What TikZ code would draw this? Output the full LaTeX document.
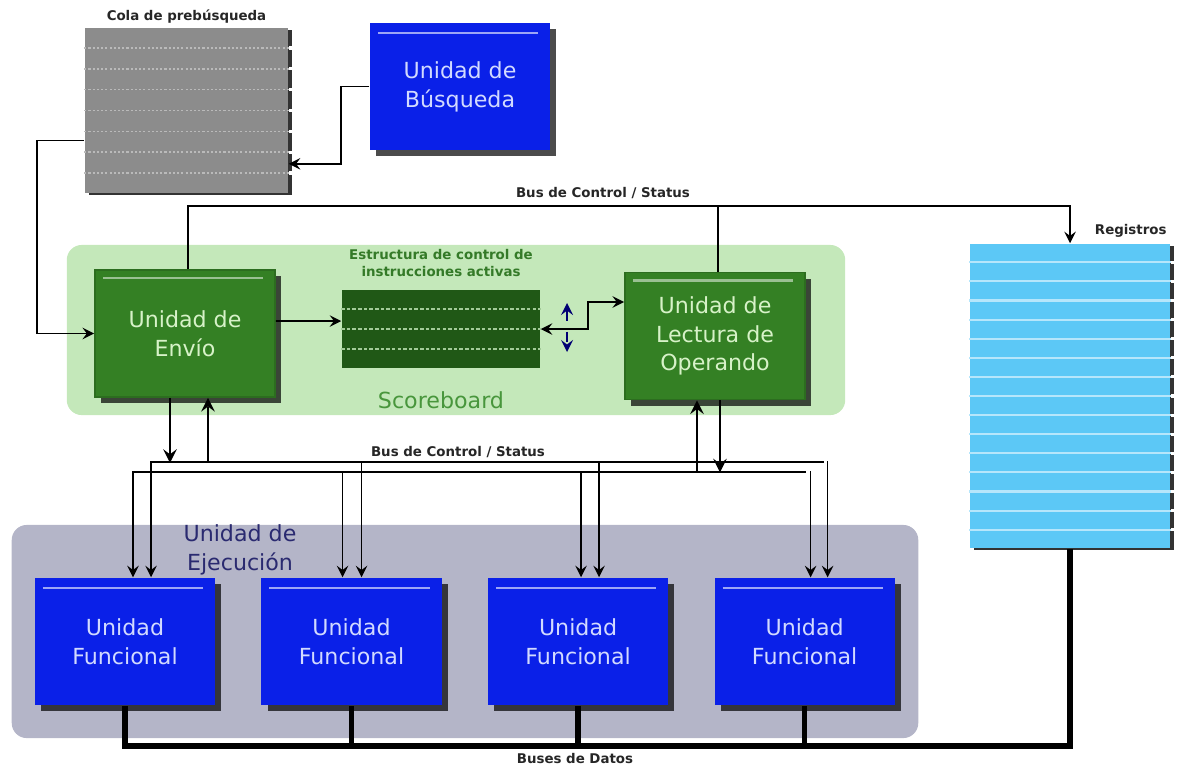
\documentclass[tikz,border=0pt]{standalone}
\usepackage{fontspec}
\setmainfont{DejaVu Sans}
\usepackage{xcolor}
\usepackage{tikz}
\usetikzlibrary{arrows, positioning, calc, shadows, backgrounds}

\definecolor{unitblue}{RGB}{10,32,232}
\definecolor{bluetext}{RGB}{210,218,255}
\definecolor{unitgreen}{RGB}{52,128,36}
\definecolor{greentext}{RGB}{215,242,200}
\definecolor{panelgreen}{RGB}{196,232,186}
\definecolor{panelgray}{RGB}{180,181,200}
\definecolor{sbdark}{RGB}{32,88,22}
\definecolor{sbtext}{RGB}{72,150,60}
\definecolor{sbtitle}{RGB}{52,122,40}
\definecolor{regblue}{RGB}{92,200,246}
\definecolor{colagray}{RGB}{140,140,140}
\definecolor{execnavy}{RGB}{42,42,112}

\newcommand{\unitfont}{\fontsize{6.3}{8.2}\selectfont}
\newcommand{\tagfont}{\fontsize{3.8}{4.8}\selectfont\bfseries}

\begin{document}
\begin{tikzpicture}[
    x=0.01cm, y=-0.01cm,
    unit/.style={rectangle, minimum width=1.8cm, minimum height=1.27cm, align=center, font=\unitfont, drop shadow={shadow xshift=1.8pt, shadow yshift=-1.8pt, opacity=0.7, fill=black}},
    blueunit/.style={unit, fill=unitblue, text=bluetext, path picture={\draw[unitblue!40!white, line width=0.7pt] ([shift={(8,10)}]path picture bounding box.north west) -- ([shift={(-12,10)}]path picture bounding box.north east);}},
    greenunit/.style={unit, fill=unitgreen, draw=unitgreen!85!black, line width=0.5pt, text=greentext, path picture={\draw[unitgreen!50!white, line width=0.8pt] ([shift={(8,8)}]path picture bounding box.north west) -- ([shift={(-12,8)}]path picture bounding box.north east);}},
    panel/.style={rectangle, rounded corners=0.15cm, inner sep=0pt},
    tag/.style={font=\tagfont, text=black!85, inner sep=1pt, align=center},
    arrow/.style={->, >=stealth, line width=0.45pt},
    bus/.style={line width=0.45pt},
    databus/.style={line width=1.6pt}
]
\useasboundingbox (0,0) rectangle (1185,769);

% Panels
\node[panel, fill=panelgreen, minimum width=7.78cm, minimum height=1.7cm] (sbpanel) at (456,330) {};
\node[panel, fill=panelgray, minimum width=9.06cm, minimum height=2.13cm] (exepanel) at (465,631.5) {};

% Prefetch queue
\node[rectangle, fill=colagray, minimum width=2.03cm, minimum height=1.65cm, drop shadow={shadow xshift=1.2pt, shadow yshift=-0.6pt, opacity=0.8, fill=black}, label={[tag]above:Cola de prebúsqueda}] (cola) at (186.5,110.5) {};
\foreach \k in {1,...,7}{
    \draw[colagray!60!white, dash pattern=on 0.6pt off 0.6pt, line width=0.4pt] ($(cola.north west)!\k/8!(cola.south west)$) -- ($(cola.north east)!\k/8!(cola.south east)$);
    \draw[white, line width=0.9pt] ($(cola.north east)!\k/8!(cola.south east)$) -- ++(6,0);
}

% Units
\node[blueunit] (busq) at (460,86.5) {Unidad de\\Búsqueda};
\node[greenunit] (envio) at (185,333.5) {Unidad de\\Envío};
\node[greenunit] (lectura) at (715,336) {Unidad de\\Lectura de\\Operando};
\node[blueunit] (fu1) at (125,641.5) {Unidad\\Funcional};
\node[blueunit, right=0.45cm of fu1] (fu2) {Unidad\\Funcional};
\node[blueunit, right=0.45cm of fu2] (fu3) {Unidad\\Funcional};
\node[blueunit, right=0.45cm of fu3] (fu4) {Unidad\\Funcional};
\node[font=\unitfont, text=execnavy, align=center] (exelabel) at (240,550) {Unidad de\\Ejecución};

% Scoreboard structure
\node[rectangle, fill=sbdark, minimum width=1.98cm, minimum height=0.78cm] (score) at (441,329) {};
\foreach \k in {1,2,3}
    \draw[panelgreen!80!sbdark, dash pattern=on 1pt off 0.6pt, line width=0.5pt] ($(score.north west)!\k/4!(score.south west)$) -- ($(score.north east)!\k/4!(score.south east)$);
\node[tag, text=sbtitle, above=0.08cm of score] (sbhead) {Estructura de control de\\instrucciones activas};
\node[font=\unitfont, text=sbtext, below=0.1cm of score] (sbname) {Scoreboard};

% Register file
\node[rectangle, fill=regblue, minimum width=2cm, minimum height=3.04cm, drop shadow={shadow xshift=1.2pt, shadow yshift=-0.6pt, opacity=0.8, fill=black}] (regs) at (1070,396) {};
\foreach \k in {1,...,15}{
    \draw[regblue!45!white, line width=0.6pt] ($(regs.north west)!\k/16!(regs.south west)$) -- ($(regs.north east)!\k/16!(regs.south east)$);
    \draw[white, line width=0.9pt] ($(regs.north east)!\k/16!(regs.south east)$) -- ++(6,0);
}
\node[tag, above left=0.02cm and 0cm of regs.north east] (regslabel) {Registros};

% Fetch path
\draw[arrow] (busq.west) -- ++(-28,0) |- ($(cola.north east)!0.82!(cola.south east)$);
\draw[arrow] ($(cola.north west)!0.68!(cola.south west)$) -- ++(-47,0) |- (envio.west);
\draw[arrow] ([yshift=0.125cm]envio.east) -- ([yshift=0.08cm]score.west);
\draw[arrow, <->] (score.east) -- ++(47,0) |- ([yshift=0.34cm]lectura.west);
\draw[<->, >=stealth, dashed, line width=0.5pt, blue!45!black] (567,303) -- (567,352);

% Upper control bus
\draw[arrow] ([xshift=0.03cm]envio.north) -- ++(0,-63) -| (regs.north);
\draw[bus] ([xshift=0.03cm]lectura.north) -- ++(0,-65);
\node[tag] (cbtop) at (603,193) {Bus de Control / Status};

% Lower control bus
\coordinate (cbupL) at (151,462);
\coordinate (cbupR) at (824,462);
\coordinate (cblowL) at (133,472);
\coordinate (cblowR) at (806,472);
\draw[bus] (cbupL) -- (cbupR);
\draw[bus] (cblowL) -- (cblowR);
\node[tag] (cbmid) at (458,452) {Bus de Control / Status};
\foreach \f/\a/\b in {fu1/0.08/0.26, fu2/-0.09/0.10, fu3/0.03/0.21, fu4/0.06/0.23}{
    \draw[arrow] ([xshift=\a cm]\f.north) ++(0,-106) -- ([xshift=\a cm]\f.north);
    \draw[arrow] ([xshift=\b cm]\f.north) ++(0,-116) -- ([xshift=\b cm]\f.north);
}
\draw[arrow, line width=0.7pt] ([xshift=-0.15cm]envio.south) -- ++(0,65);
\draw[arrow, line width=0.7pt] ([xshift=0.23cm]envio.south) ++(0,65) -- ([xshift=0.23cm]envio.south);
\draw[arrow, line width=0.7pt] ([xshift=-0.18cm]lectura.south) ++(0,72) -- ([xshift=-0.18cm]lectura.south);
\draw[arrow, line width=0.7pt] ([xshift=0.05cm]lectura.south) -- ++(0,72);

% Data buses
\foreach \f in {fu2,fu3,fu4}
    \draw[databus] (\f.south) -- (\f.south |- 0,746);
\draw[databus] (fu1.south) |- (regs.south |- 0,746) -- (regs.south);
\node[tag] (dblabel) at (575,758) {Buses de Datos};

\end{tikzpicture}
\end{document}
